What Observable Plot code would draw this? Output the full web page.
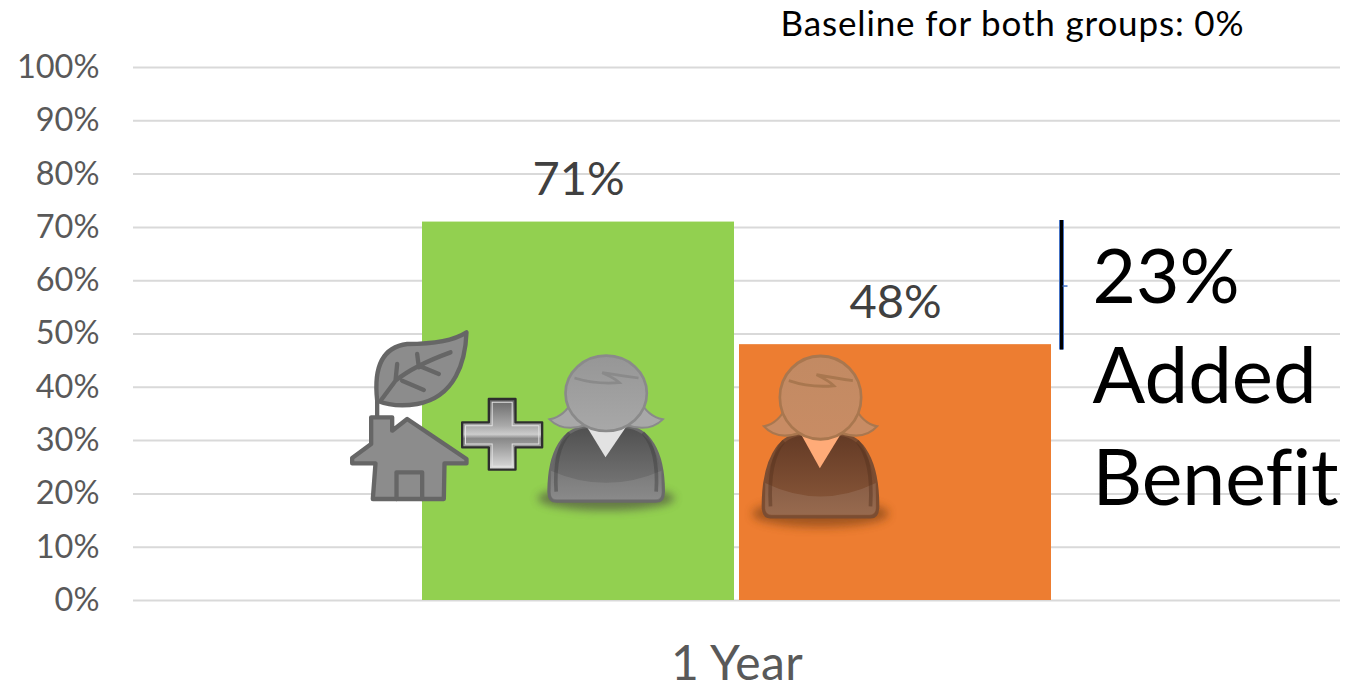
<!DOCTYPE html>
<html><head><meta charset="utf-8">
<style>html,body{margin:0;padding:0;background:#fff}svg{display:block}</style>
<script src="https://cdn.jsdelivr.net/npm/d3@7"></script>
<script src="https://cdn.jsdelivr.net/npm/@observablehq/plot@0.6"></script>
</head><body><div id="chart"></div>
<script>
const groups = ["Home + usual care", "Usual care"];
const values = [71, 48];
const valueLabels = ["71%", "48%"];
const barColors = ["#92D050", "#ED7D31"];
const yTicks = [0,10,20,30,40,50,60,70,80,90,100];
const categoryLabel = "1 Year";
const baselineNote = "Baseline for both groups: 0%";
const benefitLines = ["23%", "Added", "Benefit"];
const benefitY = [60.4, 41.7, 22.6];
const benefitSize = [75, 78, 77];
const bracket = [47, 71.3];
const bracketTick = 59;

function person(id, c, tf) {
  return `<defs>
  <linearGradient id="${id}b" x1="0" y1="0" x2="0" y2="1"><stop offset="0" stop-color="${c.bodyTop}"/><stop offset="1" stop-color="${c.bodyBottom}"/></linearGradient>
  <linearGradient id="${id}h" x1="0" y1="0" x2="0" y2="1"><stop offset="0" stop-color="${c.headTop}"/><stop offset="1" stop-color="${c.headBottom}"/></linearGradient>
  <filter id="${id}s" x="-30%" y="-100%" width="160%" height="300%"><feGaussianBlur stdDeviation="13"/></filter></defs>
  <g transform="${tf}">
  <ellipse cx="0" cy="315" rx="205" ry="36" fill="${c.shadow}" opacity=".85" filter="url(#${id}s)"/>
  <path d="M-172,295C-172,170-125,105-60,100L60,100C125,105 172,170 172,295Q172,324 150,324L-150,324Q-172,324-172,295Z" fill="url(#${id}b)" stroke="${c.bodyStroke}" stroke-width="9"/>
  <path d="M-166,232Q0,305 166,232L166,298Q166,318 146,318L-146,318Q-166,318-166,298Z" fill="#fff" opacity=".1"/>
  <path d="M-110,118Q-158,170-150,295" fill="none" stroke="${c.bodyEdge}" stroke-width="11" opacity=".45"/>
  <path d="M110,118Q158,170 150,295" fill="none" stroke="${c.bodyEdge}" stroke-width="11" opacity=".45"/>
  <path d="M-58,100L-2,192L60,100Z" fill="${c.collar}"/>
  <path d="M-170,78Q-125,70-100,20L-60,95Q-130,118-170,78Z" fill="${c.headBottom}" stroke="${c.headStroke}" stroke-width="6"/>
  <path d="M170,78Q125,70 100,20L60,95Q130,118 170,78Z" fill="${c.headBottom}" stroke="${c.headStroke}" stroke-width="6"/>
  <ellipse cx="0" cy="0" rx="122" ry="113" fill="url(#${id}h)" stroke="${c.headStroke}" stroke-width="8"/>
  <path d="M-95,-46Q-30,-26 40,-32Q25,-46-12,-62Q50,-52 97,-46" fill="none" stroke="${c.headStroke}" stroke-width="8"/>
  </g>`;
}
const homeArt = `<g stroke="#666" stroke-width="13" stroke-linejoin="round" stroke-linecap="round">
  <path d="M110,292V240" fill="none"/>
  <path d="M110,240C100,150 120,80 200,70C280,70 340,60 378,35C375,120 345,230 230,250C180,258 140,252 110,240Z" fill="#8c8c8c"/>
  <path d="M122,238L165,180Q220,135 330,95M230,100L235,140M170,130L165,180M185,180L250,208M235,135L295,160" fill="none"/>
  <path d="M92,290H155V330L200,295L378,415V428H312L310,535H97L105,428H35V412L92,370Z" fill="#8c8c8c"/>
  <path d="M168,535V455H245V535" fill="none"/>
  </g>`;
const plusArt = `<defs><linearGradient id="pg" x1="0" y1="0" x2="0" y2="1"><stop offset="0" stop-color="#666"/><stop offset=".38" stop-color="#aaa"/><stop offset=".5" stop-color="#ccc"/><stop offset=".56" stop-color="#888"/><stop offset="1" stop-color="#ddd"/></linearGradient></defs>
  <path d="M445,235H525V305H605V380H525V447H445V380H365V305H445Z" fill="url(#pg)" stroke="#2e2e2e" stroke-width="7" stroke-linejoin="round"/>
  <path d="M455,245H515V315H595V370H515V437H455V370H375V315H455Z" fill="none" stroke="#e2e2e2" stroke-width="3"/>`;
const greyPerson = person("g", {bodyTop:"#505050", bodyBottom:"#7e7e7e", bodyEdge:"#3f3f3f", bodyStroke:"#6a6a6a", headTop:"#969696", headBottom:"#a8a8a8", headStroke:"#8a8a8a", collar:"#e2e2e2", shadow:"#5d6b45"}, "translate(797,218)");
const orangePerson = person("o", {bodyTop:"#633a25", bodyBottom:"#8d5a3b", bodyEdge:"#54301c", bodyStroke:"#7b4d32", headTop:"#c28a63", headBottom:"#c88c64", headStroke:"#a9774f", collar:"#ffab78", shadow:"#94501f"}, "translate(270,202) scale(1,1.105)");
const uri = (w,h,body) => "data:image/svg+xml;charset=utf-8," + encodeURIComponent(`<svg xmlns="http://www.w3.org/2000/svg" viewBox="0 0 ${w} ${h}">${body}</svg>`);
const iconRows = [
  {group: groups[0], level: 32.8, src: uri(1050,630, homeArt + plusArt + greyPerson), w: 350, h: 210, shift: -63},
  {group: groups[1], level: 31, src: uri(600,630, orangePerson), w: 200, h: 210, shift: -65}
];

const bars = groups.map((g,i) => ({group:g, value:values[i], label:valueLabels[i], color:barColors[i]}));
const benefit = benefitLines.map((t,i) => ({text:t, y:benefitY[i], size:benefitSize[i]}));
const FONT = "Lato";

// text tweak helper: letter spacing and no ligatures, as in the original typeface
const textStyle = (spacing) => (index, scales, values, dimensions, context, next) => {
  const g = next(index, scales, values, dimensions, context);
  d3.select(g).selectAll("text").style("letter-spacing", spacing + "px").style("font-variant-ligatures", "none");
  return g;
};

const chart = Plot.plot({
  width: 1350, height: 690,
  marginLeft: 133, marginRight: 10, marginTop: 67, marginBottom: 90,
  style: {fontFamily: FONT, background: "#fff"},
  x: {domain: groups, range: [422, 1051], paddingInner: 0.016, paddingOuter: 0, axis: null},
  y: {domain: [0,100], axis: null},
  marks: [
    Plot.ruleY(yTicks, {stroke:"#d9d9d9", strokeWidth:2}),
    Plot.axisY({ticks: yTicks, tickSize: 0, tickPadding: 34, tickFormat: d => d + "%", fontSize: 32.5, fill: "#595959", label: null}),
    Plot.barY(bars, {x:"group", y:"value", fill:"color"}),
    Plot.text(bars, {x:"group", y:"value", text:"label", dy:-42, fontSize:47, fill:"#404040"}),
    Plot.image(iconRows, {x:"group", y:"level", src:"src", width:"w", height:"h", render(index, scales, values, dimensions, context, next) {
      const g = next(index, scales, values, dimensions, context);
      d3.select(g).selectAll("image").attr("transform", (_, i) => `translate(${iconRows[index[i]].shift},0)`);
      return g;
    }}),
    Plot.ruleX([groups[1]], {x: d => d, y1: bracket[0], y2: bracket[1], dx: 166, stroke:"#4472C4", strokeWidth:5}),
    Plot.ruleX([groups[1]], {x: d => d, y1: bracket[0], y2: bracket[1], dx: 166, stroke:"#000", strokeWidth:3}),
    Plot.dot([bracketTick], {x: () => groups[1], y: d => d, r: 6, dx: 167, stroke:"#4472C4", strokeWidth:1.5, symbol: {draw(c) { c.moveTo(0,0); c.lineTo(5,0); }}}),
    Plot.text(benefit, {x: () => groups[1], y:"y", text:"text", textAnchor:"start", dx:197, fontSize:"size", fill:"#000", render: textStyle(0)}),
    Plot.text([baselineNote], {x: () => groups[1], y: () => 108, textAnchor:"start", dx:-115, fontSize:35, fill:"#000", render: textStyle(0.85)}),
    Plot.text([categoryLabel], {frameAnchor:"bottom", dy:79, fontSize:48, fill:"#595959", render: textStyle(0.4)})
  ]
});
document.getElementById("chart").appendChild(chart);
</script></body></html>
